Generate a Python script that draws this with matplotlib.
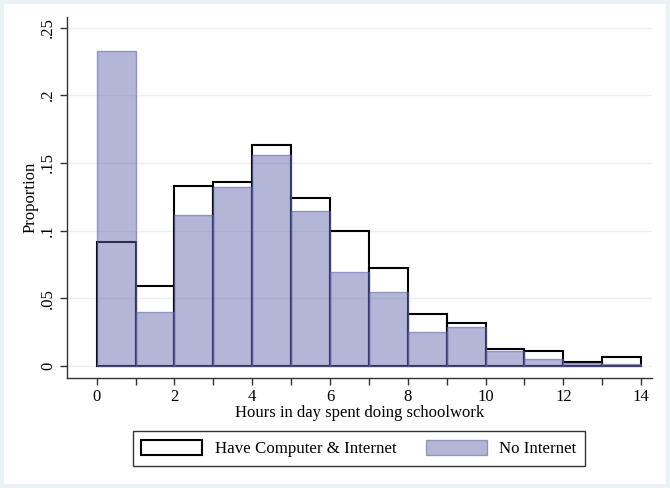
import matplotlib
matplotlib.use("Agg")
import matplotlib.pyplot as plt
from matplotlib.patches import Rectangle, Patch
import numpy as np

bin_edges = list(range(0, 15))
have_internet = [0.0913, 0.0593, 0.133, 0.1357, 0.163, 0.124, 0.0995, 0.0722, 0.0384, 0.032, 0.0128, 0.0113, 0.0027, 0.0066]
no_internet = [0.2326, 0.0400, 0.1115, 0.132, 0.156, 0.1147, 0.0696, 0.0549, 0.0253, 0.029, 0.011, 0.005, 0.002, 0.0017]
y_ticks = [0, 0.05, 0.1, 0.15, 0.2, 0.25]
y_tick_labels = ["0", ".05", ".1", ".15", ".2", ".25"]
x_ticks = [0, 2, 4, 6, 8, 10, 12, 14]
series_labels = ["Have Computer & Internet", "No Internet"]

plt.rcParams['font.family'] = ['Liberation Serif', 'DejaVu Serif']

W, H = 670, 488
fig = plt.figure(figsize=(W / 100, H / 100), dpi=100)
fig.patch.set_facecolor('white')
fig.patches.append(Rectangle((2 / W, 2 / H), 666 / W, 484 / H, transform=fig.transFigure,
                             facecolor='none', edgecolor='#eaf2f3', linewidth=3.0, zorder=-10))

left, right, top, bottom = 67, 652, 17, 378
ax = fig.add_axes([left / W, 1 - bottom / H, (right - left) / W, (bottom - top) / H])
ax.set_facecolor('white')
ax.set_zorder(2)

blue_rgb = (96 / 255, 100 / 255, 170 / 255)
blue_fill = blue_rgb + (0.47,)
blue_edge = blue_rgb + (0.6,)

lefts = np.array(bin_edges[:-1])
widths = np.diff(bin_edges)

ax.bar(lefts, have_internet, width=widths, align='edge', facecolor='none',
       edgecolor='black', linewidth=1.5, zorder=2)
ax.bar(lefts, no_internet, width=widths, align='edge', facecolor=blue_fill,
       edgecolor=blue_edge, linewidth=1.0, zorder=3)

ax.set_xlim(-0.764, 14.28)
ax.set_ylim(-0.00886, 0.2578)

ax.set_yticks(y_ticks)
ax.set_yticklabels(y_tick_labels, rotation=90, va='center', fontsize=12)
ax.set_xticks(x_ticks)
ax.set_xticklabels([str(v) for v in x_ticks], fontsize=12)
ax.set_xticks(range(1, 14, 2), minor=True)
ax.tick_params(axis='both', which='both', direction='out', length=5, width=1, color='#333333', pad=3)

for yv in y_ticks:
    ax.axhline(yv, color='#eaf0f2', linewidth=1.0, zorder=1)

for s in ['top', 'right']:
    ax.spines[s].set_visible(False)
for s in ['left', 'bottom']:
    ax.spines[s].set_color('#333333')
    ax.spines[s].set_linewidth(1.0)

ax.set_xlabel("Hours in day spent doing schoolwork", fontsize=12, labelpad=0)
ax.set_ylabel("Proportion", fontsize=12, labelpad=1)

handles = [Patch(facecolor='white', edgecolor='black', linewidth=1.5),
           Patch(facecolor=blue_fill, edgecolor=blue_edge, linewidth=1.0)]
leg = fig.legend(handles, series_labels, loc='center', bbox_to_anchor=(359 / W, 1 - 448.5 / H),
                 ncol=2, frameon=True, fancybox=False, fontsize=12.2,
                 handlelength=3.6, handleheight=1.0, handletextpad=0.75, columnspacing=1.7,
                 borderpad=0.5, borderaxespad=0)
leg.get_frame().set_edgecolor('black')
leg.get_frame().set_linewidth(1.0)

fig.savefig('out.png', dpi=100, facecolor=fig.get_facecolor())
